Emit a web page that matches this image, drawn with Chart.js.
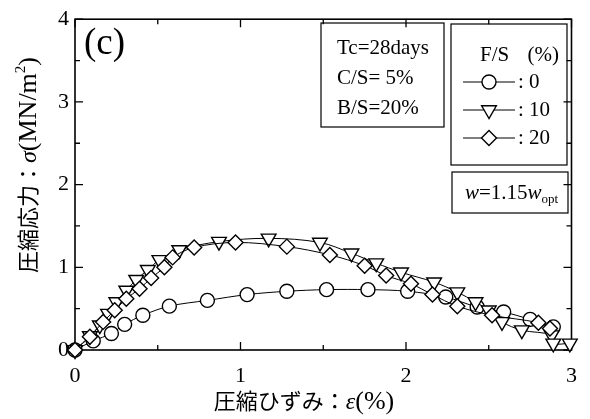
<!DOCTYPE html>
<html><head><meta charset="utf-8">
<script src="https://cdn.jsdelivr.net/npm/chart.js@4.4.0/dist/chart.umd.min.js"></script>
<style>html,body{margin:0;padding:0;background:#fff}#wrap{width:590px;height:419px}</style>
</head><body><div id="wrap"><canvas id="c" width="590" height="419"></canvas></div>
<script>
// F/S = 0 % (circles)
const fs0X = [0, 0.11, 0.22, 0.30, 0.41, 0.57, 0.80, 1.04, 1.28, 1.52, 1.77, 2.01, 2.24, 2.43, 2.59, 2.75, 2.89];
const fs0Y = [0, 0.11, 0.20, 0.31, 0.42, 0.53, 0.60, 0.67, 0.71, 0.73, 0.73, 0.71, 0.64, 0.52, 0.46, 0.37, 0.28];
// F/S = 10 % (triangles)
const fs10X = [0, 0.09, 0.15, 0.20, 0.25, 0.31, 0.37, 0.44, 0.51, 0.63, 0.87, 1.17, 1.48, 1.67, 1.82, 1.97, 2.17, 2.31, 2.42, 2.50, 2.58, 2.70, 2.88, 2.89, 2.99];
const fs10Y = [0, 0.17, 0.30, 0.44, 0.58, 0.72, 0.85, 0.97, 1.09, 1.21, 1.31, 1.35, 1.30, 1.17, 1.05, 0.94, 0.82, 0.70, 0.58, 0.48, 0.34, 0.24, 0.18, 0.08, 0.08];
// F/S = 20 % (diamonds)
const fs20X = [0, 0.09, 0.17, 0.24, 0.31, 0.39, 0.46, 0.54, 0.59, 0.72, 0.97, 1.28, 1.54, 1.75, 1.88, 2.03, 2.16, 2.31, 2.52, 2.80, 2.87];
const fs20Y = [0, 0.16, 0.34, 0.48, 0.62, 0.74, 0.87, 1.00, 1.12, 1.24, 1.30, 1.25, 1.15, 1.02, 0.90, 0.80, 0.67, 0.53, 0.42, 0.33, 0.26];

const xTickLabels = [0, 1, 2, 3];
const yTickLabels = [0, 1, 2, 3, 4];
const legendLabels = [': 0', ': 10', ': 20'];
const infoLines = ['Tc=28days', 'C/S= 5%', 'B/S=20%'];

const SERIF = '"Liberation Serif", "Times New Roman", serif';
const CJK = '"Noto Sans CJK JP", sans-serif';

function pts(xs, ys) { return xs.map((x, i) => ({x: x, y: ys[i]})); }

const styles = [
  {pointStyle: 'circle', radius: 7, rotation: 0},
  {pointStyle: 'triangle', radius: 8.5, rotation: 180},
  {pointStyle: 'rectRot', radius: 7.5, rotation: 0}
];
function ds(data, s, order) {
  return {
    data: data, showLine: true, borderColor: '#000', borderWidth: 1, tension: 0.35, clip: false, order: order,
    pointStyle: s.pointStyle, pointRadius: s.radius, pointRotation: s.rotation,
    pointBackgroundColor: '#fff', pointBorderColor: '#000', pointBorderWidth: 1.4,
    pointHoverRadius: s.radius
  };
}

const deco = {
  id: 'deco',
  beforeDatasetsDraw(chart) {
    const ctx = chart.ctx, a = chart.chartArea;
    const xs = chart.scales.x, ys = chart.scales.y;
    ctx.save();
    ctx.strokeStyle = '#000'; ctx.lineWidth = 1.6;
    ctx.strokeRect(a.left, a.top, a.right - a.left, a.bottom - a.top);
    ctx.lineWidth = 1.3;
    for (let v = 0; v <= 3.0001; v += 0.5) {
      const p = xs.getPixelForValue(v);
      const L = Math.abs(v - Math.round(v)) < 1e-6 ? 8 : 5;
      ctx.beginPath();
      ctx.moveTo(p, a.bottom); ctx.lineTo(p, a.bottom - L);
      ctx.moveTo(p, a.top); ctx.lineTo(p, a.top + L);
      ctx.stroke();
    }
    for (let v = 0; v <= 4.0001; v += 0.5) {
      const p = ys.getPixelForValue(v);
      const L = Math.abs(v - Math.round(v)) < 1e-6 ? 8 : 5;
      ctx.beginPath();
      ctx.moveTo(a.left, p); ctx.lineTo(a.left + L, p);
      ctx.moveTo(a.right, p); ctx.lineTo(a.right - L, p);
      ctx.stroke();
    }
    ctx.restore();
  },
  afterDraw(chart) {
    const ctx = chart.ctx;
    ctx.save();
    ctx.strokeStyle = '#000';
    // (c)
    ctx.fillStyle = '#000';
    ctx.textBaseline = 'alphabetic'; ctx.textAlign = 'left';
    ctx.font = '37px ' + SERIF;
    ctx.fillText('(c)', 84, 54);
    // info box
    ctx.lineWidth = 1.2;
    ctx.strokeRect(321, 23, 123, 104);
    ctx.font = '21px ' + SERIF;
    ctx.textBaseline = 'middle';
    infoLines.forEach((t, i) => ctx.fillText(t, 337, 48 + i * 30));
    // legend box
    ctx.strokeRect(451, 24, 116, 141);
    ctx.fillText('F/S', 480, 55);
    ctx.textAlign = 'right';
    ctx.fillText('(%)', 559, 55);
    ctx.textAlign = 'left';
    const rowsY = [82, 110, 138];
    rowsY.forEach((y, i) => {
      ctx.lineWidth = 1;
      ctx.beginPath(); ctx.moveTo(463, y); ctx.lineTo(515, y); ctx.stroke();
      ctx.fillStyle = '#fff'; ctx.strokeStyle = '#000'; ctx.lineWidth = 1.4;
      Chart.helpers.drawPoint(ctx, {pointStyle: styles[i].pointStyle, radius: styles[i].radius, rotation: styles[i].rotation, borderWidth: 1.4}, 489, y);
      ctx.fillStyle = '#000';
      ctx.fillText(legendLabels[i], 518, y);
    });
    // w box
    ctx.lineWidth = 1.2;
    ctx.strokeRect(452, 172, 116, 41);
    let x = 465; const by = 199;
    ctx.textBaseline = 'alphabetic';
    ctx.font = 'italic 21px ' + SERIF; ctx.fillText('w', x, by); x += ctx.measureText('w').width;
    ctx.font = '21px ' + SERIF; ctx.fillText('=1.15', x, by); x += ctx.measureText('=1.15').width;
    ctx.font = 'italic 21px ' + SERIF; ctx.fillText('w', x, by); x += ctx.measureText('w').width;
    ctx.font = '13px ' + SERIF; ctx.fillText('opt', x, by + 4);
    // x title
    const xParts = [
      {t: '圧縮ひずみ：', f: '22px ' + CJK},
      {t: 'ε', f: 'italic 24px ' + SERIF},
      {t: '(%)', f: '26px ' + SERIF}
    ];
    let tw = 0;
    xParts.forEach(p => { ctx.font = p.f; tw += ctx.measureText(p.t).width; });
    x = 304 - tw / 2;
    xParts.forEach(p => { ctx.font = p.f; ctx.fillText(p.t, x, 409); x += ctx.measureText(p.t).width; });
    // y title
    ctx.save();
    ctx.translate(36, 165);
    ctx.rotate(-Math.PI / 2);
    const yParts = [
      {t: '圧縮応力：', f: '22px ' + CJK, dy: 0},
      {t: 'σ', f: 'italic 24px ' + SERIF, dy: 0},
      {t: '(MN/m', f: '26px ' + SERIF, dy: 0},
      {t: '2', f: '15px ' + SERIF, dy: -11},
      {t: ')', f: '26px ' + SERIF, dy: 0}
    ];
    tw = 0;
    yParts.forEach(p => { ctx.font = p.f; tw += ctx.measureText(p.t).width; });
    x = -tw / 2;
    yParts.forEach(p => { ctx.font = p.f; ctx.fillText(p.t, x, p.dy); x += ctx.measureText(p.t).width; });
    ctx.restore();
    ctx.restore();
  }
};

new Chart(document.getElementById('c'), {
  type: 'scatter',
  data: {
    datasets: [
      ds(pts(fs0X, fs0Y), styles[0], 2),
      ds(pts(fs10X, fs10Y), styles[1], 1),
      ds(pts(fs20X, fs20Y), styles[2], 0)
    ]
  },
  options: {
    responsive: false, animation: false, devicePixelRatio: 1,
    layout: {padding: {left: 0, top: 15, right: 14, bottom: 0}},
    plugins: {legend: {display: false}, tooltip: {enabled: false}},
    scales: {
      x: {
        type: 'linear', min: 0, max: 3,
        afterFit: s => { s.height = 69; },
        grid: {display: false, drawTicks: false}, border: {display: false},
        ticks: {stepSize: 1, padding: 13, color: '#000', font: {family: SERIF, size: 22},
          callback: v => xTickLabels.includes(v) ? String(v) : ''}
      },
      y: {
        type: 'linear', min: 0, max: 4,
        afterFit: s => { s.width = 75; },
        grid: {display: false, drawTicks: false}, border: {display: false},
        ticks: {stepSize: 1, padding: 6, color: '#000', font: {family: SERIF, size: 22},
          callback: v => yTickLabels.includes(v) ? String(v) : ''}
      }
    }
  },
  plugins: [deco]
});
</script>
</body></html>
